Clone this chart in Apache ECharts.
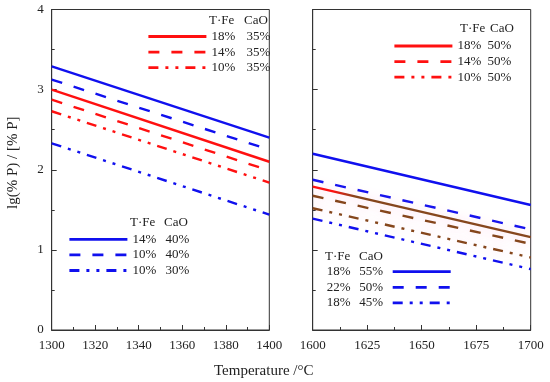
<!DOCTYPE html>
<html>
<head>
<meta charset="utf-8">
<script src="https://cdn.jsdelivr.net/npm/echarts@6/dist/echarts.min.js"></script>
<style>html,body{margin:0;padding:0;background:#fff}#c{width:550px;height:382px}</style>
</head>
<body>
<div id="c"></div>
<script>
// ---- data ----
var tempsLeft = [1300, 1400];
var tempsRight = [1600, 1700];
var xTicksLeft = [1300, 1320, 1340, 1360, 1380, 1400];
var xTicksRight = [1600, 1625, 1650, 1675, 1700];
var yTicks = [0, 1, 2, 3, 4];

// left panel, red (CaO 35%)
var namesLeftRed = ['18%|35%', '14%|35%', '10%|35%'];
var leftRed18 = [3.00, 2.10];
var leftRed14 = [2.875, 1.99];
var leftRed10 = [2.73, 1.84];
// left panel, blue
var namesLeftBlue = ['14%|40%', '10%|40%', '10%|30%'];
var leftBlue14_40 = [3.29, 2.40];
var leftBlue10_40 = [3.125, 2.25];
var leftBlue10_30 = [2.33, 1.44];
// right panel, red (CaO 50%)
var namesRightRed = ['18%|50%', '14%|50%', '10%|50%'];
var rightRed18 = [1.79, 1.16];
var rightRed14 = [1.675, 1.075];
var rightRed10 = [1.52, 0.905];
// right panel, blue
var namesRightBlue = ['18%|55%', '22%|50%', '18%|45%'];
var rightBlue18_55 = [2.20, 1.56];
var rightBlue22_50 = [1.875, 1.255];
var rightBlue18_45 = [1.39, 0.76];

var RED = '#ff1010', BLUE = '#1010ee', BROWN = '#85461c';
var DASH = [11, 12], DDOT = [10, 7, 3, 7, 3, 7];
var FONT = 'Liberation Serif';

function pts(xs, ys) { return xs.map(function (x, i) { return [x, ys[i]]; }); }
function ser(name, xi, xs, ys, color, type, extra) {
  var s = {
    name: name, type: 'line', xAxisIndex: xi, yAxisIndex: xi,
    data: pts(xs, ys), symbol: 'none', silent: true,
    lineStyle: { color: color, width: 2.4, type: type },
    itemStyle: { color: color }
  };
  if (extra) { for (var k in extra) s.lineStyle[k] = extra[k]; }
  return s;
}
var halo = { shadowColor: 'rgba(255,150,210,0.4)', shadowBlur: 12 };
var redGrad = { type: 'linear', x: 0, y: 0, x2: 1, y2: 0,
  colorStops: [{ offset: 0, color: RED }, { offset: 0.1, color: RED }, { offset: 0.2, color: BROWN }, { offset: 1, color: BROWN }] };

var series = [
  ser(namesLeftBlue[0], 0, tempsLeft, leftBlue14_40, BLUE, 'solid'),
  ser(namesLeftBlue[1], 0, tempsLeft, leftBlue10_40, BLUE, DASH),
  ser(namesLeftBlue[2], 0, tempsLeft, leftBlue10_30, BLUE, DDOT),
  ser(namesLeftRed[0], 0, tempsLeft, leftRed18, RED, 'solid'),
  ser(namesLeftRed[1], 0, tempsLeft, leftRed14, RED, DASH),
  ser(namesLeftRed[2], 0, tempsLeft, leftRed10, RED, DDOT),
  ser(namesRightBlue[0], 1, tempsRight, rightBlue18_55, BLUE, 'solid'),
  ser(namesRightBlue[1], 1, tempsRight, rightBlue22_50, BLUE, DASH),
  ser(namesRightBlue[2], 1, tempsRight, rightBlue18_45, BLUE, DDOT),
  ser(namesRightRed[0], 1, tempsRight, rightRed18, redGrad, 'solid', halo),
  ser(namesRightRed[1], 1, tempsRight, rightRed14, BROWN, DASH, halo),
  ser(namesRightRed[2], 1, tempsRight, rightRed10, BROWN, DDOT, halo)
];

function legendFmt(n) { var p = n.split('|'); return '{a|' + p[0] + '}{b|' + p[1] + '}'; }
function legend(names, left, top, colA, colB, align, color) {
  return {
    data: names,
    left: left, top: top, orient: 'vertical', align: align || 'left',
    itemWidth: 58, itemHeight: 14, itemGap: 1.6, padding: 0, selectedMode: false,
    formatter: legendFmt,
    itemStyle: { opacity: 0, borderWidth: 0 },
    lineStyle: { color: color, width: 2.8, opacity: 1, shadowBlur: 0, shadowColor: 'rgba(0,0,0,0)' },
    textStyle: { fontFamily: FONT, fontSize: 13, color: '#222', lineHeight: 14,
      rich: { a: { width: colA, align: 'left', fontFamily: FONT, fontSize: 13, color: '#222' },
              b: { width: colB, align: 'left', fontFamily: FONT, fontSize: 13, color: '#222' } } }
  };
}

var axisText = { fontFamily: FONT, fontSize: 13, color: '#222' };
function plain(v) { return String(v); }
function xAxis(gi, min, max, interval) {
  return {
    type: 'value', gridIndex: gi, min: min, max: max, interval: interval,
    axisLine: { show: true, lineStyle: { color: '#333', width: 1 } },
    axisTick: { show: true, inside: true, length: 5, lineStyle: { color: '#333' } },
    minorTick: { show: true, splitNumber: 2, length: 3, lineStyle: { color: '#333' } },
    axisLabel: Object.assign({ margin: 9, formatter: plain }, axisText),
    splitLine: { show: false }
  };
}
function yAxis(gi, showLabel) {
  var a = {
    type: 'value', gridIndex: gi, min: 0, max: 4, interval: 1,
    axisLine: { show: true, lineStyle: { color: '#333', width: 1 } },
    axisTick: { show: true, inside: true, length: 5, lineStyle: { color: '#333' } },
    minorTick: { show: true, splitNumber: 2, length: 3, lineStyle: { color: '#333' } },
    axisLabel: Object.assign({ show: showLabel, margin: 8, formatter: plain }, axisText),
    splitLine: { show: false }
  };
  if (showLabel) {
    a.name = 'lg(% P) / [% P]';
    a.nameLocation = 'middle';
    a.nameGap = 31;
    a.nameTextStyle = { fontFamily: FONT, fontSize: 15, color: '#222', padding: [0, 0, 0, 14] };
  }
  return a;
}

function header(x1, x2, y) {
  return [
    { type: 'text', left: x1, top: y, style: { text: 'T·Fe', font: '13px "Liberation Serif"', fill: '#222' } },
    { type: 'text', left: x2, top: y, style: { text: 'CaO', font: '13px "Liberation Serif"', fill: '#222' } }
  ];
}

var chart = echarts.init(document.getElementById('c'), null, { renderer: 'canvas' });
chart.setOption({
  backgroundColor: '#fff',
  animation: false,
  grid: [
    { left: 51.7, top: 9.5, width: 217.6, height: 320.5, show: true, borderColor: '#333', borderWidth: 1 },
    { left: 312.7, top: 9.5, width: 218, height: 320.5, show: true, borderColor: '#333', borderWidth: 1 }
  ],
  xAxis: [xAxis(0, 1300, 1400, 20), xAxis(1, 1600, 1700, 25)],
  yAxis: [yAxis(0, true), yAxis(1, false)],
  legend: [
    legend(namesLeftRed, 147, 29.5, 35, 30, 'left', RED),
    legend(namesLeftBlue, 68, 232.3, 33, 30, 'left', BLUE),
    legend(namesRightRed, 393, 39, 30, 30, 'left', RED),
    legend(namesRightBlue, 326.7, 264.7, 32.6, 28.4, 'right', BLUE)
  ],
  graphic: [].concat(
    header(209, 244, 14),
    header(130, 164, 216),
    header(460, 490, 22),
    header(325, 359, 250),
    [{ type: 'text', left: 214, top: 364, style: { text: 'Temperature /°C', font: '15px "Liberation Serif"', fill: '#222' } }]
  ),
  series: series
});
</script>
</body>
</html>
